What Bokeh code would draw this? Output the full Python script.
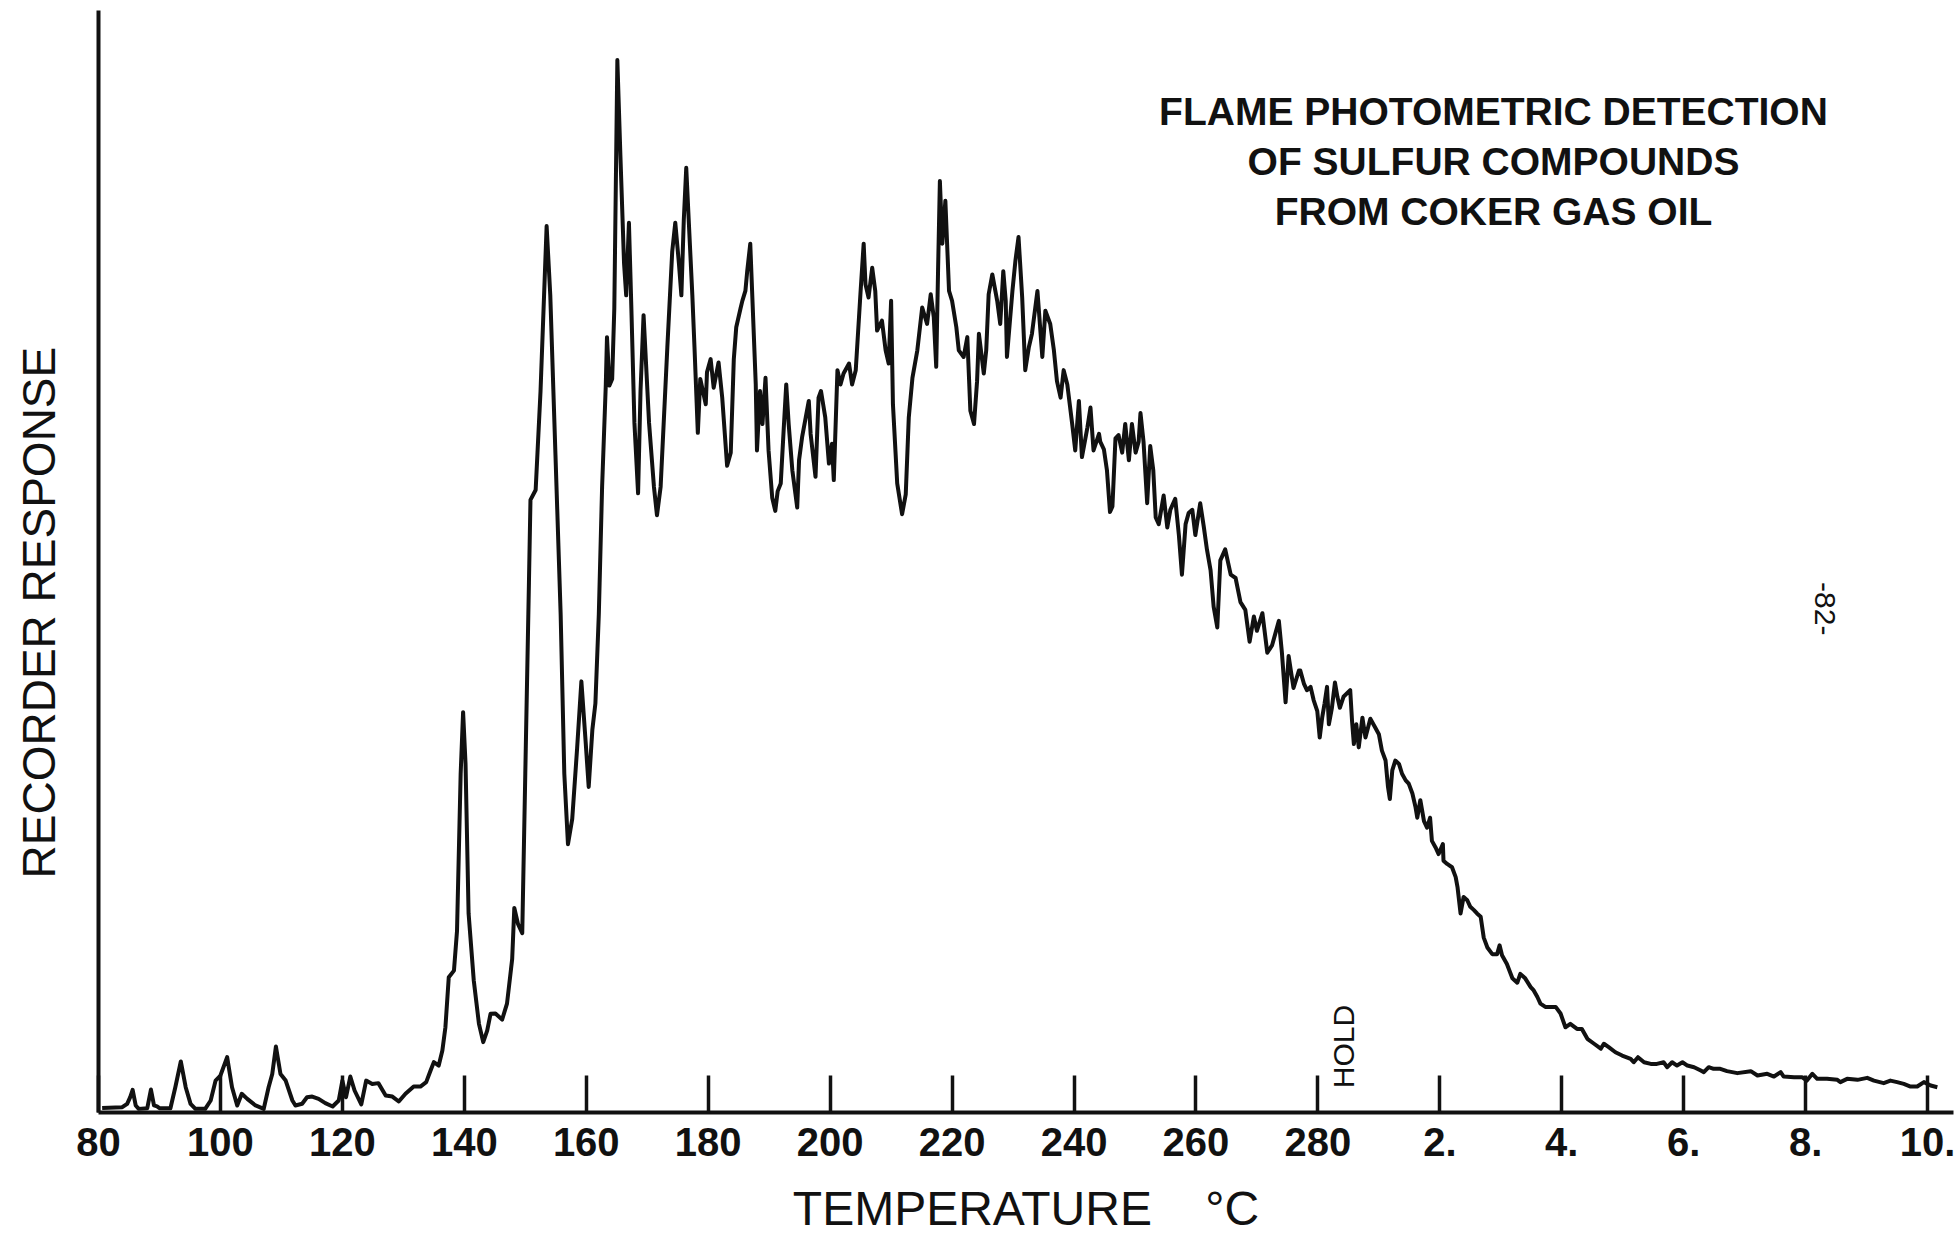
import math
from bokeh.plotting import figure
from bokeh.models import FixedTicker, Label, Range1d
from bokeh.embed import file_html
from bokeh.resources import INLINE

# x positions: 80..280 are temperatures (deg C); beyond 280 the scale shows hold time (2., 4., ... min)
tick_values = [80, 100, 120, 140, 160, 180, 200, 220, 240, 260, 280, 300, 320, 340, 360, 380]
tick_labels = ["80", "100", "120", "140", "160", "180", "200", "220", "240", "260", "280",
               "2.", "4.", "6.", "8.", "10."]

# --- traced recorder response, segment 80-144 ---
x_early = [80.6, 83.9, 84.7, 85.2, 85.6, 86.1, 86.6, 88.0, 88.6, 89.1, 89.6, 90.0, 91.8, 92.6, 93.5,
           94.3, 95.1, 95.9, 97.5, 98.4, 99.2, 100.0, 101.1, 101.9, 102.75, 103.5, 104.4, 105.75,
           107.1, 107.9, 108.5, 109.1, 109.85, 110.7, 111.8, 112.3, 113.4, 114.2, 115.05, 116.1,
           117.2, 118.4, 119.4, 120.0, 120.6, 121.3, 122.0, 123.1, 123.9, 124.9, 125.9, 127.1,
           128.2, 129.25, 130.35, 131.7, 132.8, 133.75, 134.45, 135.0, 135.8, 136.4, 136.9,
           137.45, 138.3, 138.8, 139.4, 139.8, 140.2, 140.7, 141.55, 142.4, 143.1, 143.75, 144.3]
y_early = [0.4, 0.48, 0.79, 1.39, 2.06, 0.64, 0.33, 0.39, 2.09, 0.64, 0.55, 0.39, 0.39, 2.3, 4.64,
           2.3, 0.79, 0.33, 0.33, 1.09, 2.9, 3.36, 5.03, 2.3, 0.64, 1.7, 1.24, 0.64,
           0.33, 2.3, 3.5, 6.0, 3.5, 2.9, 1.09, 0.64, 0.79, 1.39, 1.45, 1.24,
           0.85, 0.55, 1.09, 2.9, 1.39, 3.27, 2.0, 0.73, 2.9, 2.6, 2.67, 1.55,
           1.45, 1.0, 1.7, 2.36, 2.36, 2.76, 3.8, 4.58, 4.27, 5.64, 7.76,
           12.3, 12.9, 16.5, 30.8, 36.4, 31.7, 18.1, 12.0, 8.06, 6.4, 7.45, 8.97]

# --- segment 145-185 ---
x_rise = [145.1, 146.2, 147.0, 147.85, 148.2, 148.8, 149.5, 150.0, 150.6, 150.85, 151.7, 152.5,
          153.5, 154.1, 154.95, 155.8, 156.4, 157.0, 157.7, 158.5, 159.2, 159.9, 160.4, 161.0,
          161.5, 162.06, 162.6, 163.2, 163.4, 163.8, 164.25, 164.6, 165.1, 165.6, 166.2, 166.55,
          167.0, 167.4, 167.9, 168.5, 168.9, 169.4, 170.3, 171.1, 171.6, 172.2, 173.3, 174.1,
          174.6, 175.2, 175.6, 176.0, 176.4, 176.8, 177.4, 177.75, 178.3, 178.7, 179.6, 179.8,
          180.4, 180.9, 181.7, 182.3, 183.1, 183.7, 184.2, 184.6, 185.3]
y_rise = [9.0, 8.45, 9.9, 13.96, 18.6, 17.15, 16.3, 30.8, 48.2, 55.7, 56.6, 65.6,
          80.6, 74.3, 59.8, 45.3, 30.8, 24.4, 26.7, 33.1, 39.2, 33.7, 29.6, 34.8,
          37.2, 45.3, 56.9, 66.1, 70.5, 66.1, 66.7, 73.1, 95.7, 87.0, 77.2, 74.3,
          80.9, 73.1, 62.7, 56.3, 65.6, 72.5, 62.7, 56.9, 54.3, 56.9, 69.6, 78.3,
          80.9, 77.2, 74.3, 81.2, 85.9, 81.2, 74.3, 69.6, 61.8, 66.7, 64.4, 67.3,
          68.5, 65.9, 68.2, 65.0, 58.8, 60.0, 68.5, 71.4, 73.1]

# --- segment 185-244 ---
x_plateau = [185.6, 186.1, 186.4, 186.9, 187.2, 187.8, 188.0, 188.5, 188.9, 189.4, 189.9, 190.5,
             191.0, 191.4, 191.9, 192.4, 192.8, 193.2, 193.8, 194.6, 194.9, 195.4, 196.0, 196.5,
             196.8, 197.6, 198.1, 198.5, 199.2, 199.8, 200.3, 200.6, 201.2, 201.7, 202.2, 203.1,
             203.6, 204.2, 204.4, 205.0, 205.5, 205.8, 206.3, 206.9, 207.4, 207.7, 208.5, 209.1,
             209.6, 210.0, 210.3, 211.0, 211.8, 212.4, 212.9, 213.5, 214.3, 215.1, 215.9, 216.5,
             217.0, 217.4, 217.7, 218.0, 218.4, 218.9, 219.5, 220.0, 220.7, 221.1, 221.9, 222.5,
             223.0, 223.6, 224.1, 224.4, 225.2, 225.6, 226.0, 226.6, 227.4, 227.9, 228.4, 228.8,
             229.0, 229.9, 230.4, 230.9, 231.5, 232.0, 232.6, 233.1, 234.0, 234.8, 235.3, 236.1,
             236.7, 237.2, 237.8, 238.3, 238.9, 239.7, 240.2, 240.8, 241.3, 242.2, 242.7, 243.2,
             244.1]
y_plateau = [73.8, 74.7, 76.5, 79.0, 74.7, 66.2, 60.2, 65.6, 62.6, 66.8, 60.2, 55.9,
             54.7, 56.5, 57.2, 62.3, 66.2, 62.6, 58.4, 55.0, 59.3, 61.4, 63.2, 64.7,
             61.7, 57.8, 65.0, 65.6, 63.2, 59.0, 60.8, 57.5, 67.5, 66.2, 67.2, 68.1,
             66.2, 67.5, 69.3, 74.7, 79.0, 75.3, 74.1, 76.8, 74.7, 71.1, 72.0, 69.3,
             68.1, 73.8, 64.4, 57.2, 54.4, 56.2, 63.2, 66.8, 69.3, 73.2, 71.7, 74.4,
             72.3, 67.8, 76.5, 84.7, 79.0, 82.9, 74.7, 73.8, 71.4, 69.3, 68.7, 70.5,
             63.8, 62.6, 66.5, 70.8, 67.2, 69.3, 74.4, 76.2, 73.8, 71.7, 76.5, 73.8,
             68.7, 74.7, 77.5, 79.6, 74.1, 67.5, 69.6, 70.8, 74.7, 68.7, 72.9, 71.7,
             69.3, 66.5, 65.0, 67.5, 66.2, 62.6, 60.2, 64.7, 59.6, 62.3, 64.1, 60.2,
             61.7]

# --- segment 244-277 ---
x_decline = [244.3, 244.9, 245.4, 245.9, 246.3, 246.8, 247.3, 247.9, 248.4, 249.0, 249.5, 250.1,
             250.6, 250.9, 251.4, 252.0, 252.5, 253.0, 253.4, 253.9, 254.7, 255.3, 255.8, 256.6,
             257.2, 257.7, 258.3, 258.8, 259.4, 259.9, 260.7, 261.3, 261.8, 262.4, 262.9, 263.5,
             264.0, 264.8, 265.7, 266.5, 267.3, 268.1, 268.8, 269.5, 270.0, 270.9, 271.7, 272.5,
             273.6, 274.1, 274.7, 275.2, 276.0, 276.9]
y_decline = [61.0, 60.3, 58.4, 54.6, 55.1, 61.3, 61.6, 60.0, 62.6, 59.3, 62.6, 60.0,
             61.0, 63.6, 61.0, 55.4, 60.6, 58.4, 54.1, 53.5, 56.1, 53.2, 54.8, 55.8,
             52.5, 48.9, 53.5, 54.5, 54.8, 52.5, 55.4, 53.2, 51.2, 49.3, 46.0, 44.1,
             50.2, 51.2, 48.9, 48.6, 46.4, 45.7, 42.8, 45.1, 43.8, 45.4, 41.8, 42.5,
             44.7, 41.8, 37.3, 41.5, 38.6, 40.2]

# --- segment 277-321 (end of program, start of hold) ---
x_hold = [277.1, 277.7, 278.2, 278.8, 279.3, 279.9, 280.3, 280.7, 281.1, 281.5, 281.8, 282.3,
          282.8, 283.2, 283.6, 284.2, 285.3, 285.6, 285.9, 286.3, 286.7, 287.3, 287.8, 288.6,
          289.4, 290.0, 290.5, 291.1, 291.5, 291.8, 292.2, 292.7, 293.3, 293.8, 294.4, 294.9,
          295.5, 296.0, 296.3, 296.8, 297.4, 297.9, 298.4, 298.7, 299.3, 299.8, 300.5, 300.6,
          301.2, 302.0, 302.6, 302.9, 303.4, 303.9, 304.5, 305.0, 305.6, 306.1, 306.7, 307.2,
          307.8, 308.6, 309.4, 309.8, 310.2, 311.0, 311.9, 312.7, 313.2, 314.0, 314.9, 315.4,
          316.0, 316.5, 317.3, 318.1, 319.0, 319.8, 320.6, 321.4]
y_hold = [40.2, 39.0, 38.4, 38.7, 37.5, 36.5, 34.1, 35.9, 37.2, 38.7, 35.3, 36.8,
          39.1, 37.8, 36.8, 37.8, 38.4, 35.6, 33.5, 35.3, 33.2, 35.9, 34.1, 35.8,
          35.0, 34.4, 32.9, 32.0, 29.6, 28.5, 31.1, 32.0, 31.7, 30.8, 30.2, 29.9,
          29.0, 27.8, 26.8, 28.4, 26.5, 25.9, 26.8, 24.7, 24.1, 23.5, 24.4, 22.9,
          22.6, 22.3, 21.4, 20.5, 18.1, 19.6, 19.3, 18.7, 18.4, 18.1, 17.8, 15.9,
          15.0, 14.4, 14.4, 15.2, 14.3, 13.5, 12.2, 11.8, 12.6, 12.2, 11.4, 11.1,
          10.5, 9.9, 9.6, 9.6, 9.6, 9.0, 7.75, 8.06]

# --- segment 322-382 (tail) ---
x_tail = [322.5, 323.3, 324.2, 325.3, 326.4, 326.9, 327.7, 328.8, 329.9, 331.3, 331.8, 332.5,
          333.5, 334.6, 335.6, 336.7, 337.3, 338.1, 338.9, 339.8, 340.6, 341.7, 342.8, 343.3,
          344.1, 344.9, 346.0, 347.1, 348.8, 351.0, 352.1, 353.7, 354.8, 355.9, 356.4, 358.1,
          359.4, 360.2, 361.1, 361.9, 363.5, 365.2, 365.7, 366.8, 368.5, 370.1, 371.2, 372.8,
          373.9, 375.0, 376.1, 377.2, 378.3, 379.4, 380.5, 381.6]
y_tail = [7.6, 7.6, 6.7, 6.25, 5.8, 6.25, 5.94, 5.48, 5.18, 4.88, 4.57, 5.03,
          4.57, 4.42, 4.42, 4.57, 4.12, 4.57, 4.27, 4.57, 4.27, 4.12, 3.82, 3.67,
          4.12, 3.97, 3.97, 3.76, 3.58, 3.76, 3.36, 3.52, 3.27, 3.67, 3.27, 3.21,
          3.21, 2.9, 3.52, 3.06, 3.06, 2.97, 2.76, 3.06, 2.97, 3.15, 2.9, 2.67,
          2.9, 2.76, 2.6, 2.36, 2.36, 2.76, 2.45, 2.3]

title_lines = ["FLAME PHOTOMETRIC DETECTION", "OF SULFUR COMPOUNDS", "FROM COKER GAS OIL"]
NB = "\u00a0"
x_title = "TEMPERATURE" + NB * 4 + "°C"
y_title = "RECORDER RESPONSE" + NB * 8

xs = x_early + x_rise + x_plateau + x_decline + x_hold + x_tail
ys = y_early + y_rise + y_plateau + y_decline + y_hold + y_tail

FONT = "Liberation Sans"
INK = "#111111"

p = figure(width=1959, height=1241, output_backend="svg", toolbar_location=None,
           x_range=Range1d(80, 384.25), y_range=Range1d(0, 100.2),
           min_border_left=98, min_border_right=6, min_border_top=10, min_border_bottom=129)
p.background_fill_color = "white"
p.border_fill_color = "white"
p.outline_line_color = None
p.grid.visible = False

p.line(xs, ys, line_color=INK, line_width=4, line_join="round")

xa = p.xaxis[0]
xa.ticker = FixedTicker(ticks=tick_values, minor_ticks=[])
xa.major_label_overrides = {v: t for v, t in zip(tick_values, tick_labels)}
xa.major_tick_in = 37
xa.major_tick_out = 0
xa.major_tick_line_width = 3.5
xa.major_tick_line_color = INK
xa.axis_line_width = 4
xa.axis_line_color = INK
xa.major_label_text_font = FONT
xa.major_label_text_font_size = "40px"
xa.major_label_text_font_style = "bold"
xa.major_label_text_color = INK
xa.major_label_standoff = 15
xa.axis_label = x_title
xa.axis_label_text_font = FONT
xa.axis_label_text_font_size = "48px"
xa.axis_label_text_font_style = "normal"
xa.axis_label_text_color = INK
xa.axis_label_standoff = 23

ya = p.yaxis[0]
ya.ticker = FixedTicker(ticks=[], minor_ticks=[])
ya.major_tick_in = 0
ya.major_tick_out = 0
ya.axis_line_width = 4
ya.axis_line_color = INK
ya.axis_label = y_title
ya.axis_label_text_font = FONT
ya.axis_label_text_font_size = "46px"
ya.axis_label_text_font_style = "normal"
ya.axis_label_text_color = INK
ya.axis_label_standoff = 34

for i, line in enumerate(title_lines):
    p.add_layout(Label(x=308.8, y=91.0 - 4.55 * i, text=line, text_align="center",
                       text_baseline="middle", text_font=FONT, text_font_size="39px",
                       text_font_style="bold", text_color=INK))

p.add_layout(Label(x=284.2, y=6.0, text="HOLD", angle=math.pi / 2,
                   text_align="center", text_baseline="middle", text_font=FONT,
                   text_font_size="30px", text_color=INK))
p.add_layout(Label(x=363.1, y=45.8, text="-82-", angle=-math.pi / 2,
                   text_align="center", text_baseline="middle", text_font=FONT,
                   text_font_size="30px", text_color=INK))

open("out.html", "w").write(file_html(p, INLINE))
